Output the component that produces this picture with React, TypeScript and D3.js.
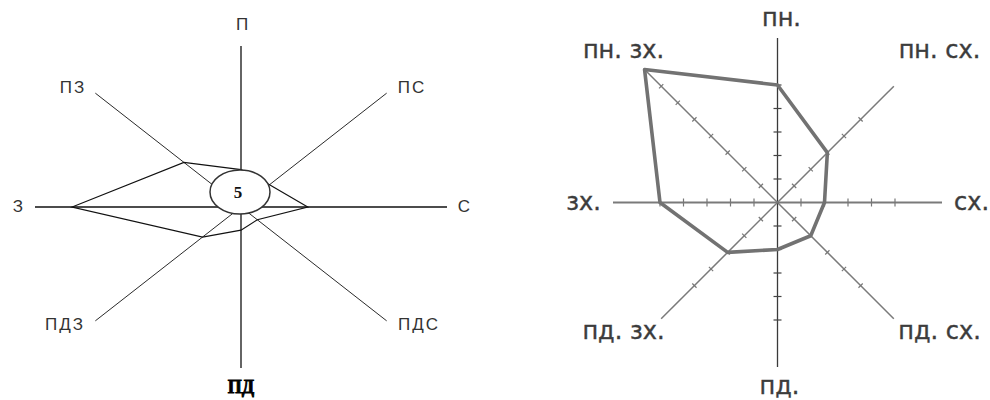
import React from "react";
import * as d3 from "d3";

// left rose: wind directions (Ukrainian, capitals) and frequencies, %
const leftDirections = ["П", "ПС", "С", "ПДС", "ПД", "ПДЗ", "З", "ПЗ"];
const leftValues = [5.8, 4.9, 8.1, 2.8, 3.6, 6.6, 20.5, 9.8];
const leftCalm = "5";
const leftMax = 25;

// right rose: directions and values in axis units
const rightDirections = ["пн.", "пн. сх.", "сх.", "пд. сх.", "пд.", "пд. зх.", "зх.", "пн. зх."];
const rightValues = [5, 3, 2, 2, 2, 3, 5, 8];
const rightTickCounts = [5, 5, 5, 5, 5, 5, 5, 7];
const rightAxisUnits = 7;

// label offsets from the rose centre (layout only)
const leftLabelOffsets = [[2, -177], [171, -114], [224, 5], [178, 123], [0, 186], [-176, 123], [-222, 5], [-168, -114]];
const rightLabelOffsets = [[4, -177], [162, -145], [194, 7], [162, 136], [2, 191], [-154, 136], [-194, 7], [-154, -145]];

const angle = d3.scaleLinear().domain([0, 8]).range([0, 2 * Math.PI]);

function LeftRose() {
  const cx = 241, cy = 207, rx = 206, ry = 161;
  const f = d3.scaleLinear().domain([0, leftMax]).range([0, 1]);
  const pt = (i: number, v: number): [number, number] => [
    cx + rx * f(v) * Math.sin(angle(i)),
    cy - ry * f(v) * Math.cos(angle(i)),
  ];
  const line = d3.line<number>()
    .x((v, i) => pt(i, v)[0])
    .y((v, i) => pt(i, v)[1])
    .curve(d3.curveLinearClosed);

  return (
    <g>
      {leftDirections.map((d, i) => {
        const [x2, y2] = pt(i, leftMax);
        return <line key={d} x1={cx} y1={cy} x2={x2} y2={y2}
          stroke={i % 2 ? "#2a2a2a" : "#111"} strokeWidth={i % 2 ? 1 : 1.3} />;
      })}
      <path d={line(leftValues) || ""} fill="none" stroke="#111" strokeWidth={1.2} />
      <ellipse cx={240} cy={192} rx={30} ry={22} fill="#fff" stroke="#333" strokeWidth={1.5} />
      <text x={238} y={198} textAnchor="middle" fontFamily="'Liberation Serif', serif"
        fontWeight="bold" fontSize={17} fill="#111">{leftCalm}</text>
      {leftDirections.map((d, i) => {
        const bottom = i === 4;
        return (
          <text key={d} x={cx + leftLabelOffsets[i][0]} y={cy + leftLabelOffsets[i][1]}
            textAnchor="middle"
            fontFamily={bottom ? "'Liberation Serif', serif" : "'Liberation Sans', Arial, sans-serif"}
            fontWeight={bottom ? 900 : 400}
            fontSize={bottom ? 18 : 17}
            letterSpacing={bottom ? 0 : 2}
            stroke={bottom ? "#000" : "none"} strokeWidth={bottom ? 0.8 : 0}
            fill={bottom ? "#000" : "#333"}>{d}</text>
        );
      })}
    </g>
  );
}

function RightRose() {
  const cx = 777.5, cy = 202.5;
  const r = d3.scaleLinear().domain([0, 1]).range([0, 23.5]);
  const pt = (i: number, v: number): [number, number] => [
    cx + r(v) * Math.sin(angle(i)),
    cy - r(v) * Math.cos(angle(i)),
  ];
  const line = d3.line<number>()
    .x((v, i) => pt(i, v)[0])
    .y((v, i) => pt(i, v)[1])
    .curve(d3.curveLinearClosed);

  return (
    <g>
      {rightDirections.map((d, i) => {
        const len = Math.max(rightAxisUnits, rightValues[i]);
        const [x2, y2] = pt(i, len);
        const a = angle(i);
        const half = i % 2 ? 3 : 4;
        const vertical = i === 0 || i === 4;
        return (
          <g key={d}>
            <line x1={cx} y1={cy} x2={x2} y2={y2}
              stroke={vertical ? "#3a3a3a" : "#7a7a7a"} strokeWidth={vertical ? 1.3 : i % 2 ? 1.5 : 2} />
            {d3.range(1, rightTickCounts[i] + 1).map(k => {
              const [tx, ty] = pt(i, k);
              return <line key={k} x1={tx - half * Math.cos(a)} y1={ty - half * Math.sin(a)}
                x2={tx + half * Math.cos(a)} y2={ty + half * Math.sin(a)}
                stroke={vertical ? "#444" : "#777"} strokeWidth={1.2} />;
            })}
          </g>
        );
      })}
      <path d={line(rightValues) || ""} fill="none" stroke="#727272" strokeWidth={3.6} strokeLinejoin="round" />
      {rightDirections.map((d, i) => (
        <text key={d} x={cx + rightLabelOffsets[i][0]} y={cy + rightLabelOffsets[i][1]}
          textAnchor="middle" fontFamily="'DejaVu Sans', sans-serif" fontSize={24}
          stroke="#3c3c3c" strokeWidth={0.4} fill="#3c3c3c">{d}</text>
      ))}
    </g>
  );
}

export default function App() {
  return (
    <svg width={990} height={400} style={{ position: "absolute", left: 0, top: 0, background: "#fff" }}>
      <LeftRose />
      <RightRose />
    </svg>
  );
}
